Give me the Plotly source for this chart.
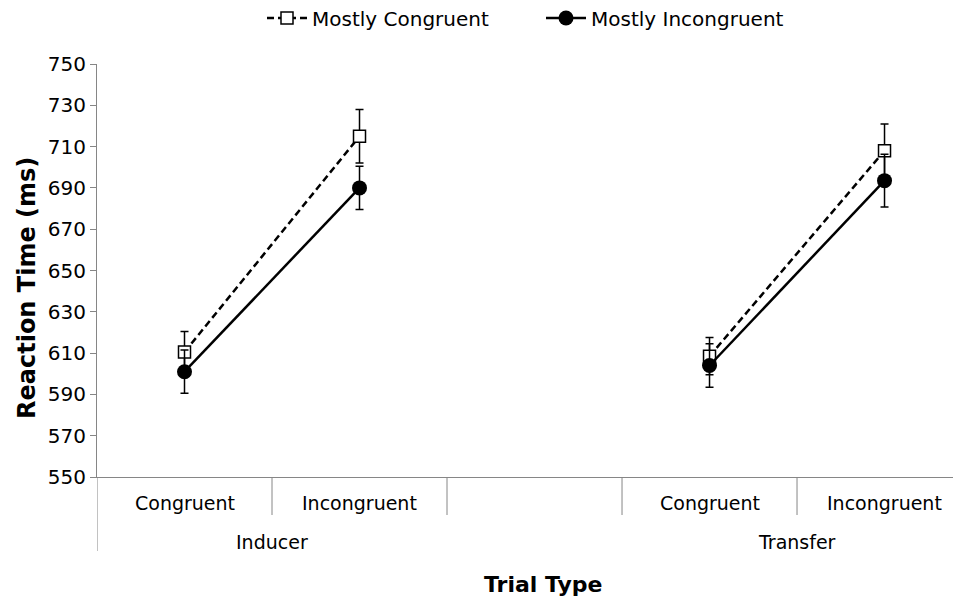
import plotly.graph_objects as go

# ---- data ----
sub_labels = ["Congruent", "Incongruent", "", "Congruent", "Incongruent"]
group_labels = ["Inducer", "Transfer"]
group_slots = [[0, 1], [3, 4]]
slots = [0, 1, 2, 3, 4]

mc_values = [610.5, 715.0, None, 608.5, 708.0]
mc_errors = [10.0, 13.0, None, 9.0, 13.0]
mi_values = [601.0, 690.0, None, 604.0, 693.5]
mi_errors = [10.5, 10.5, None, 10.5, 12.8]

y_ticks = list(range(550, 751, 20))

FONT = "Verdana, DejaVu Sans, sans-serif"
AXIS_COLOR = "#868686"

fig = go.Figure()

fig.add_trace(go.Scatter(
    x=slots, y=mc_values, name="Mostly Congruent", mode="lines+markers",
    line=dict(color="black", width=2.5, dash="7px,4px"),
    marker=dict(symbol="square", size=12, color="white", line=dict(color="black", width=1.5)),
    error_y=dict(type="data", array=mc_errors, color="black", thickness=1.5, width=4),
))
fig.add_trace(go.Scatter(
    x=slots, y=mi_values, name="Mostly Incongruent", mode="lines+markers",
    line=dict(color="black", width=2.5),
    marker=dict(symbol="circle", size=15, color="black"),
    error_y=dict(type="data", array=mi_errors, color="black", thickness=1.5, width=4),
))

plot_h = 413.0
inner_depth = 38 / plot_h
outer_depth = 74 / plot_h

shapes = []
for i in range(len(sub_labels) - 1):
    b = i + 0.5
    shapes.append(dict(type="line", xref="x", yref="paper", x0=b, x1=b, y0=0, y1=-inner_depth,
                       line=dict(color=AXIS_COLOR, width=1)))
shapes.append(dict(type="line", xref="x", yref="paper", x0=-0.5, x1=-0.5, y0=0, y1=-outer_depth,
                   line=dict(color=AXIS_COLOR, width=1)))

annotations = []
for i, lab in enumerate(sub_labels):
    if lab:
        annotations.append(dict(x=i, y=0, xref="x", yref="paper", text=lab, showarrow=False,
                                yanchor="middle", yshift=-26, font=dict(family=FONT, size=19, color="black")))
for lab, s in zip(group_labels, group_slots):
    annotations.append(dict(x=sum(s) / len(s), y=0, xref="x", yref="paper", text=lab,
                            showarrow=False, yanchor="middle", yshift=-65,
                            font=dict(family=FONT, size=19, color="black")))
annotations.append(dict(x=(543 - 97) / 864, y=0, xref="paper", yref="paper", text="<b>Trial Type</b>",
                        showarrow=False, yanchor="middle", yshift=-107,
                        font=dict(family=FONT, size=22, color="black")))
annotations.append(dict(x=0, y=(477 - 288) / plot_h, xref="paper", yref="paper",
                        text="<b>Reaction Time (ms)</b>",
                        showarrow=False, textangle=-90, xanchor="center", yanchor="middle", xshift=-70,
                        font=dict(family=FONT, size=24, color="black")))

fig.update_layout(
    width=953, height=590,
    margin=dict(l=89, r=0, t=56, b=121),
    paper_bgcolor="white", plot_bgcolor="white",
    font=dict(family=FONT, size=19, color="black"),
    showlegend=True,
    legend=dict(orientation="h", xref="paper", x=(262 - 97) / 864, xanchor="left",
                yref="container", y=1 - 10 / 590, yanchor="middle",
                font=dict(family=FONT, size=20, color="black"), itemwidth=40,
                entrywidth=224, entrywidthmode="pixels"),
    xaxis=dict(range=[-0.5, 4.437], showticklabels=False, ticks="", showgrid=False, zeroline=False,
               showline=True, linecolor=AXIS_COLOR, linewidth=1),
    yaxis=dict(range=[550, 750], tickvals=y_ticks, ticks="outside", ticklen=6, tickcolor=AXIS_COLOR,
               showgrid=False, zeroline=False, showline=True, linecolor=AXIS_COLOR, linewidth=1,
               tickfont=dict(family=FONT, size=20, color="black")),
    shapes=shapes, annotations=annotations,
)

fig.write_html("out.html")
